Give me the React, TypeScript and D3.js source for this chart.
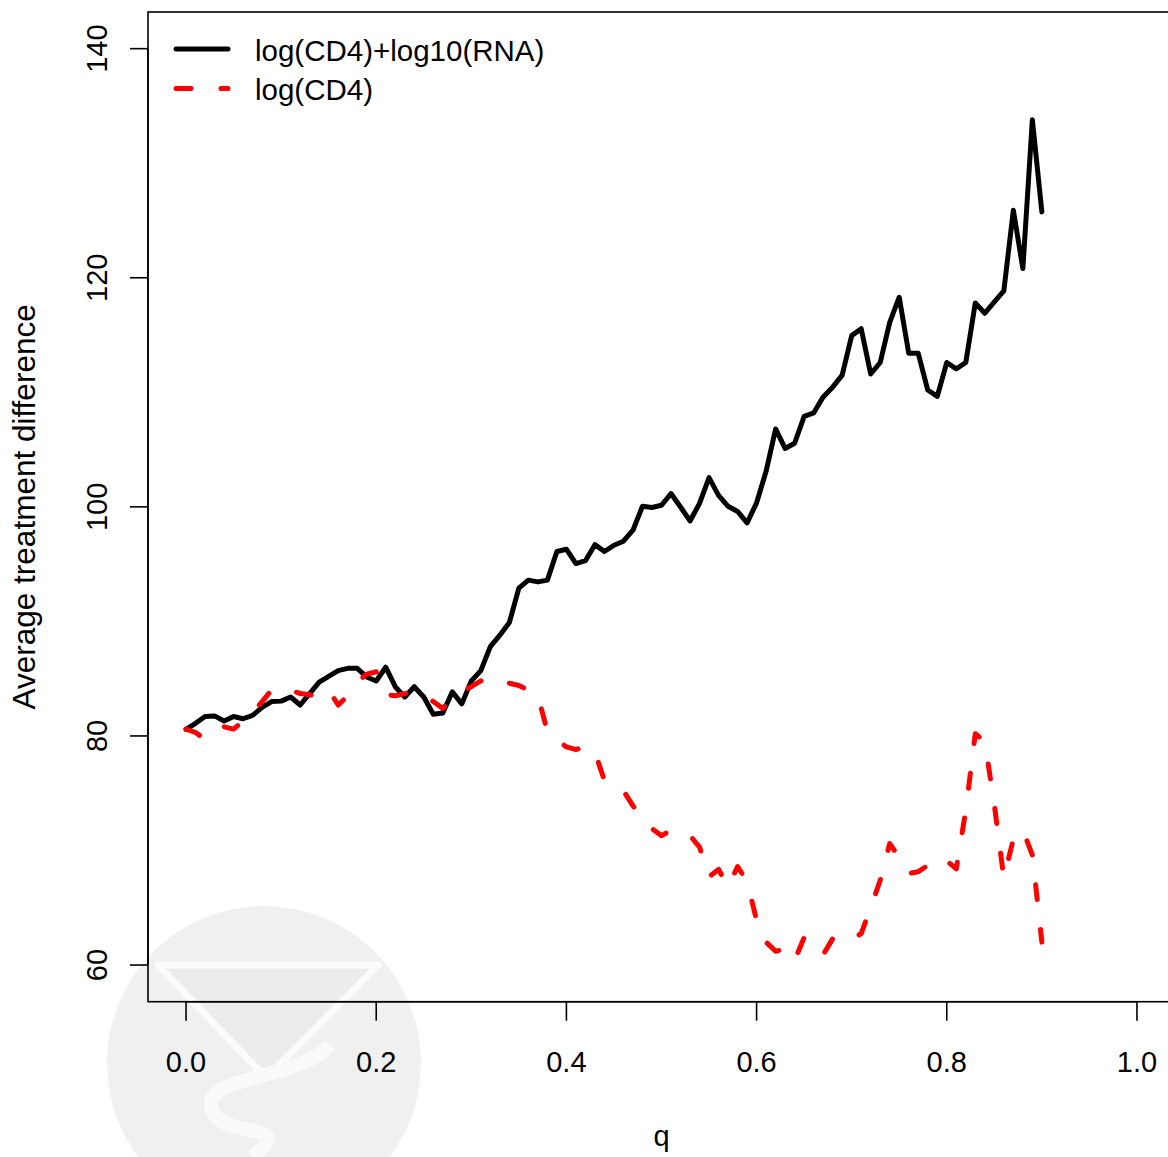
import React from 'react'
import * as d3 from 'd3'

// q grid 0.00 .. 0.90
const qValues = d3.range(0, 91).map(i => i / 100)

// log(CD4)+log10(RNA)
const bothValues = [
  80.57, 81.1, 81.7, 81.75, 81.3, 81.7, 81.5, 81.8, 82.5, 83.0,
  83.04, 83.4, 82.7, 83.7, 84.7, 85.2, 85.7, 85.9, 85.9, 85.15,
  84.8, 86.0, 84.3, 83.4, 84.3, 83.4, 81.9, 82.0, 83.85, 82.8,
  84.8, 85.7, 87.8, 88.8, 89.9, 92.9, 93.6, 93.45, 93.6, 96.1,
  96.3, 95.05, 95.3, 96.7, 96.1, 96.65, 97.0, 97.96, 100.05, 99.94,
  100.14, 101.16, 99.99, 98.77, 100.3, 102.55, 101.0, 100.05, 99.6, 98.6,
  100.35, 103.1, 106.8, 105.1, 105.55, 107.9, 108.2, 109.6, 110.45, 111.5,
  114.95, 115.55, 111.6, 112.6, 116.1, 118.3, 113.4, 113.4, 110.2, 109.65,
  112.6, 112.05, 112.6, 117.8, 116.9, 117.9, 118.85, 125.9, 120.8, 133.8,
  125.75,
]

// log(CD4)
const cd4Values = [
  80.6, 80.3, 79.7, 80.4, 80.8, 80.6, 81.3, 82.0, 83.0, 84.0,
  84.2, 84.0, 83.7, 83.6, 83.4, 84.0, 82.7, 83.5, 84.7, 85.4,
  85.6, 83.6, 83.5, 83.7, 83.9, 83.6, 83.0, 82.4, 83.3, 83.9,
  84.3, 84.8, 85.1, 84.7, 84.6, 84.4, 84.0, 83.5, 80.4, 79.6,
  79.05, 78.8, 79.1, 78.6, 76.1, 75.6, 75.2, 73.9, 72.8, 71.9,
  71.3, 71.75, 71.7, 71.3, 70.3, 67.7, 68.35, 66.8, 68.6, 67.3,
  63.9, 62.0, 61.2, 61.4, 60.4, 62.4, 61.7, 60.9, 62.3, 61.9,
  62.2, 62.75, 65.0, 67.4, 70.6, 69.4, 68.0, 68.15, 68.7, 69.4,
  69.1, 68.4, 73.5, 80.2, 79.5, 74.0, 67.6, 71.0, 71.8, 69.6,
  62.0,
]

const xTicks = [0, 0.2, 0.4, 0.6, 0.8, 1.0]
const yTicks = [60, 80, 100, 120, 140]
const legendLabels = ['log(CD4)+log10(RNA)', 'log(CD4)']

const W = 1168
const H = 1157
const FONT = '"Liberation Sans", Arial, Helvetica, sans-serif'

export default function App() {
  // R-style 4% padding around xlim c(0,1), ylim c(60,140)
  const x = d3.scaleLinear().domain([-0.04, 1.04]).range([148, 1175])
  const y = d3.scaleLinear().domain([56.8, 143.2]).range([1001.7, 12])

  const line = d3.line<number>()
    .x((_, i) => x(qValues[i]))
    .y(d => y(d))

  const left = x(-0.04)
  const right = x(1.04)
  const top = y(143.2)
  const bottom = y(56.8)

  return (
    <svg width={W} height={H} style={{ position: 'absolute', left: 0, top: 0 }} fontFamily={FONT}>
      <rect width={W} height={H} fill="#fff" />

      {/* faint watermark */}
      <g>
        <circle cx={264} cy={1063} r={157} fill="#f0f0f0" />
        <path d="M158,965 L378,965 L266,1078 Z" fill="#ececec" stroke="#fbfbfb" strokeWidth={7} strokeLinejoin="round" />
        <path d="M330,1045 C300,1080 200,1075 212,1110 C222,1140 300,1120 252,1157"
          fill="none" stroke="#fafafa" strokeWidth={14} />
      </g>

      {/* plot box */}
      <rect x={left} y={top} width={right - left} height={bottom - top}
        fill="none" stroke="#000" strokeWidth={1.6} />

      {/* x axis */}
      <line x1={x(0)} x2={x(1)} y1={bottom} y2={bottom} stroke="#000" strokeWidth={1.6} />
      {xTicks.map(t => (
        <g key={t}>
          <line x1={x(t)} x2={x(t)} y1={bottom} y2={bottom + 19} stroke="#000" strokeWidth={1.6} />
          <text x={x(t)} y={1071.5} fontSize={29} textAnchor="middle">{t.toFixed(1)}</text>
        </g>
      ))}

      {/* y axis */}
      <line x1={left} x2={left} y1={y(60)} y2={y(140)} stroke="#000" strokeWidth={1.6} />
      {yTicks.map(t => (
        <g key={t}>
          <line x1={left - 18} x2={left} y1={y(t)} y2={y(t)} stroke="#000" strokeWidth={1.6} />
          <text transform={`translate(106.5,${y(t)}) rotate(-90)`} fontSize={29} textAnchor="middle">{t}</text>
        </g>
      ))}

      {/* axis titles */}
      <text x={(left + right) / 2} y={1146} fontSize={29} textAnchor="middle">q</text>
      <text transform={`translate(35,${(top + bottom) / 2}) rotate(-90)`} fontSize={31.5} textAnchor="middle">
        Average treatment difference
      </text>

      {/* series */}
      <path d={line(bothValues) ?? ''} fill="none" stroke="#000" strokeWidth={5}
        strokeLinejoin="round" strokeLinecap="round" />
      <path d={line(cd4Values) ?? ''} fill="none" stroke="#ff0000" strokeWidth={5}
        strokeDasharray="15 30" strokeLinejoin="round" strokeLinecap="round" />

      {/* legend */}
      <line x1={176} x2={228} y1={49} y2={49} stroke="#000" strokeWidth={5} strokeLinecap="round" />
      <line x1={176} x2={228} y1={88.5} y2={88.5} stroke="#ff0000" strokeWidth={5}
        strokeDasharray="15 30" strokeLinecap="round" />
      <text x={255} y={60.5} fontSize={29.5}>{legendLabels[0]}</text>
      <text x={255} y={100} fontSize={29.5}>{legendLabels[1]}</text>
    </svg>
  )
}
